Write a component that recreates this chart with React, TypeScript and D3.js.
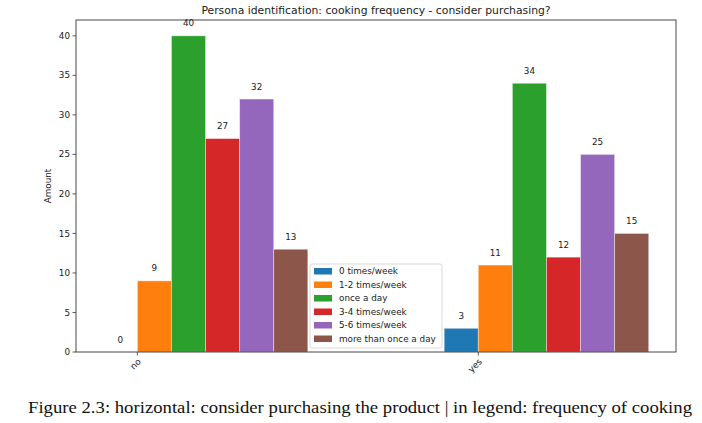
import React from 'react';
import * as d3 from 'd3';

const categories = ['no', 'yes'];
const seriesNames = [
  '0 times/week',
  '1-2 times/week',
  'once a day',
  '3-4 times/week',
  '5-6 times/week',
  'more than once a day',
];
const noValues = [0, 9, 40, 27, 32, 13];
const yesValues = [3, 11, 34, 12, 25, 15];
const yTicks = [0, 5, 10, 15, 20, 25, 30, 35, 40];
const colors = ['#1f77b4', '#ff7f0e', '#2ca02c', '#d62728', '#9467bd', '#8c564b'];

const W = 702;
const H = 423;
const margin = { top: 20, right: 26, bottom: 71, left: 76 };
const barW = 0.1;
const font = 'DejaVu Sans, sans-serif';
const small = 8.8;

const App: React.FC = () => {
  const valuesByCat = [noValues, yesValues];
  const x = d3.scaleLinear().domain([-0.18, 1.58]).range([margin.left, W - margin.right]);
  const y = d3.scaleLinear().domain([0, 42]).range([H - margin.bottom, margin.top]);
  const x0 = margin.left;
  const x1 = W - margin.right;
  const y0 = H - margin.bottom;
  const y1 = margin.top;

  return (
    <svg width={W} height={H} style={{ position: 'absolute', left: 0, top: 0, background: 'white' }}>
      {/* Title */}
      <text x={(x0 + x1) / 2} y={14} textAnchor="middle" fontFamily={font} fontSize={10.8} fill="#222">
        Persona identification: cooking frequency - consider purchasing?
      </text>

      {/* Bars */}
      {categories.map((c, ci) =>
        valuesByCat[ci].map((v, si) => {
          const left = x(ci + (si - 1) * barW);
          const right = x(ci + si * barW);
          return (
            <g key={`${c}-${si}`}>
              <rect
                x={left}
                y={y(v)}
                width={right - left}
                height={y(0) - y(v)}
                fill={colors[si]}
                stroke="#ffffff"
                strokeOpacity={0.5}
                strokeWidth={0.8}
              />
              <text
                x={(left + right) / 2}
                y={y(v) - 9.5}
                textAnchor="middle"
                fontFamily={font}
                fontSize={small}
                fill="#222"
              >
                {v}
              </text>
            </g>
          );
        })
      )}

      {/* Spines */}
      <rect x={x0} y={y1} width={x1 - x0} height={y0 - y1} fill="none" stroke="#333" strokeWidth={0.9} />

      {/* Y axis */}
      {yTicks.map((t) => (
        <g key={t}>
          <line x1={x0 - 3.5} x2={x0} y1={y(t)} y2={y(t)} stroke="#333" strokeWidth={0.8} />
          <text x={x0 - 6} y={y(t)} dy="0.35em" textAnchor="end" fontFamily={font} fontSize={small} fill="#222">
            {t}
          </text>
        </g>
      ))}
      <text
        transform={`translate(${51},${(y0 + y1) / 2}) rotate(-90)`}
        textAnchor="middle"
        fontFamily={font}
        fontSize={small}
        fill="#222"
      >
        Amount
      </text>

      {/* X axis */}
      {categories.map((c, ci) => (
        <g key={c}>
          <line x1={x(ci)} x2={x(ci)} y1={y0} y2={y0 + 3.5} stroke="#333" strokeWidth={0.8} />
          <text
            transform={`translate(${x(ci) + 2},${y0 + 8}) rotate(-45)`}
            textAnchor="end"
            dy="0.35em"
            fontFamily={font}
            fontSize={small}
            fill="#222"
          >
            {c}
          </text>
        </g>
      ))}

      {/* Legend */}
      <g transform="translate(310,264)">
        <rect x={0} y={0} width={132} height={84} rx={2} fill="white" fillOpacity={0.8} stroke="#d0d0d0" strokeWidth={0.8} />
        {seriesNames.map((s, i) => (
          <g key={s} transform={`translate(0,${7 + i * 13.5})`}>
            <rect x={4} y={-3} width={18} height={6.5} fill={colors[i]} />
            <text x={29} y={0} dy="0.35em" fontFamily={font} fontSize={small} fill="#222">
              {s}
            </text>
          </g>
        ))}
      </g>

      {/* Caption */}
      <text
        x={28}
        y={413}
        textLength={664}
        lengthAdjust="spacingAndGlyphs"
        fontFamily="Liberation Serif, serif"
        fontSize={17.5}
        fill="#111"
      >
        Figure 2.3: horizontal: consider purchasing the product | in legend: frequency of cooking
      </text>
    </svg>
  );
};

export default App;
